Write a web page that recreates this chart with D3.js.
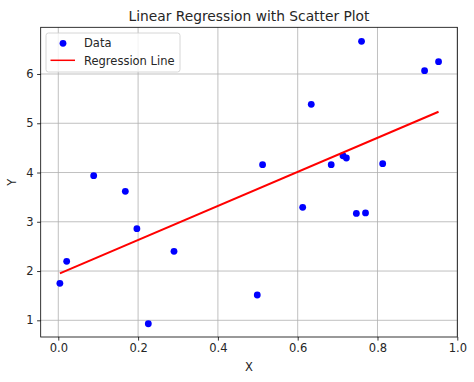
<!DOCTYPE html>
<html><head><meta charset="utf-8">
<script src="https://cdn.jsdelivr.net/npm/d3@7"></script>
<style>
body{margin:0;background:#fff;}
text{font-family:"DejaVu Sans",sans-serif;fill:#262626;}
</style></head>
<body><svg id="c" width="474" height="382"></svg>
<script>
const xValues = [0.004,0.021,0.0887,0.168,0.197,0.2256,0.290,0.4987,0.512,0.6125,0.634,0.684,0.7135,0.722,0.747,0.770,0.760,0.813,0.918,0.953];
const yValues = [1.751,2.198,3.935,3.619,2.86,0.93,2.40,1.514,4.159,3.294,5.385,4.159,4.34,4.295,3.17,3.18,6.664,4.18,6.067,6.25];
const regIntercept = 1.94;
const regSlope = 3.457;
const xTicks = [0.0,0.2,0.4,0.6,0.8,1.0];
const yTicks = [1,2,3,4,5,6];
const title = "Linear Regression with Scatter Plot";

const svg = d3.select("#c");
const L=40.7,R=457.3,T=27.3,B=337;
const FS = "11.5px";
const x = d3.scaleLinear().domain([-0.0441,1.0]).range([L,R]);
const y = d3.scaleLinear().domain([0.661,6.948]).range([B,T]);

// grid
const g = svg.append("g");
g.selectAll(".gx").data(xTicks).enter().append("line")
 .attr("x1",d=>x(d)).attr("x2",d=>x(d)).attr("y1",T).attr("y2",B)
 .attr("stroke","#b0b0b0").attr("stroke-width",0.8);
g.selectAll(".gy").data(yTicks).enter().append("line")
 .attr("y1",d=>y(d)).attr("y2",d=>y(d)).attr("x1",L).attr("x2",R)
 .attr("stroke","#b0b0b0").attr("stroke-width",0.8);

// points
svg.append("g").selectAll("circle").data(xValues).enter().append("circle")
 .attr("cx",d=>x(d)).attr("cy",(d,i)=>y(yValues[i])).attr("r",3.4).attr("fill","#0000ff");

// regression line
const x0=d3.min(xValues), x1=d3.max(xValues);
svg.append("line").attr("x1",x(x0)).attr("y1",y(regIntercept+regSlope*x0))
 .attr("x2",x(x1)).attr("y2",y(regIntercept+regSlope*x1))
 .attr("stroke","#ff0000").attr("stroke-width",2);

// axes
const xa = svg.append("g").attr("transform",`translate(0,${B})`)
 .call(d3.axisBottom(x).tickValues(xTicks).tickFormat(d3.format(".1f")).tickSize(3.6).tickPadding(3.5));
const ya = svg.append("g").attr("transform",`translate(${L},0)`)
 .call(d3.axisLeft(y).tickValues(yTicks).tickFormat(d3.format("d")).tickSize(3.6).tickPadding(3.5));
[xa,ya].forEach(a=>{a.select(".domain").remove();a.selectAll("line").attr("stroke","#000").attr("stroke-width",0.8);
 a.selectAll("text").attr("font-size",FS).style("font-family","DejaVu Sans").attr("fill","#262626");});
svg.append("rect").attr("x",L).attr("y",T).attr("width",R-L).attr("height",B-T)
 .attr("fill","none").attr("stroke","#000").attr("stroke-width",0.8);

// labels
svg.append("text").attr("x",(L+R)/2).attr("y",20.5).attr("text-anchor","middle").attr("font-size","13.8px").text(title);
svg.append("text").attr("x",(L+R)/2).attr("y",371).attr("text-anchor","middle").attr("font-size",FS).text("X");
svg.append("text").attr("transform",`translate(16,${(T+B)/2}) rotate(-90)`).attr("text-anchor","middle").attr("font-size",FS).text("Y");

// legend
const lg = svg.append("g");
lg.append("rect").attr("x",46).attr("y",33).attr("width",134).attr("height",39).attr("rx",2.5)
 .attr("fill","#fff").attr("fill-opacity",0.8).attr("stroke","#cccccc").attr("stroke-width",0.8);
lg.append("circle").attr("cx",63).attr("cy",43.3).attr("r",3.4).attr("fill","#0000ff");
lg.append("line").attr("x1",50.5).attr("x2",75).attr("y1",60.3).attr("y2",60.3).attr("stroke","#ff0000").attr("stroke-width",1.5);
lg.append("text").attr("x",84).attr("y",47.3).attr("font-size",FS).text("Data");
lg.append("text").attr("x",84).attr("y",64.5).attr("font-size",FS).text("Regression Line");
</script></body></html>
